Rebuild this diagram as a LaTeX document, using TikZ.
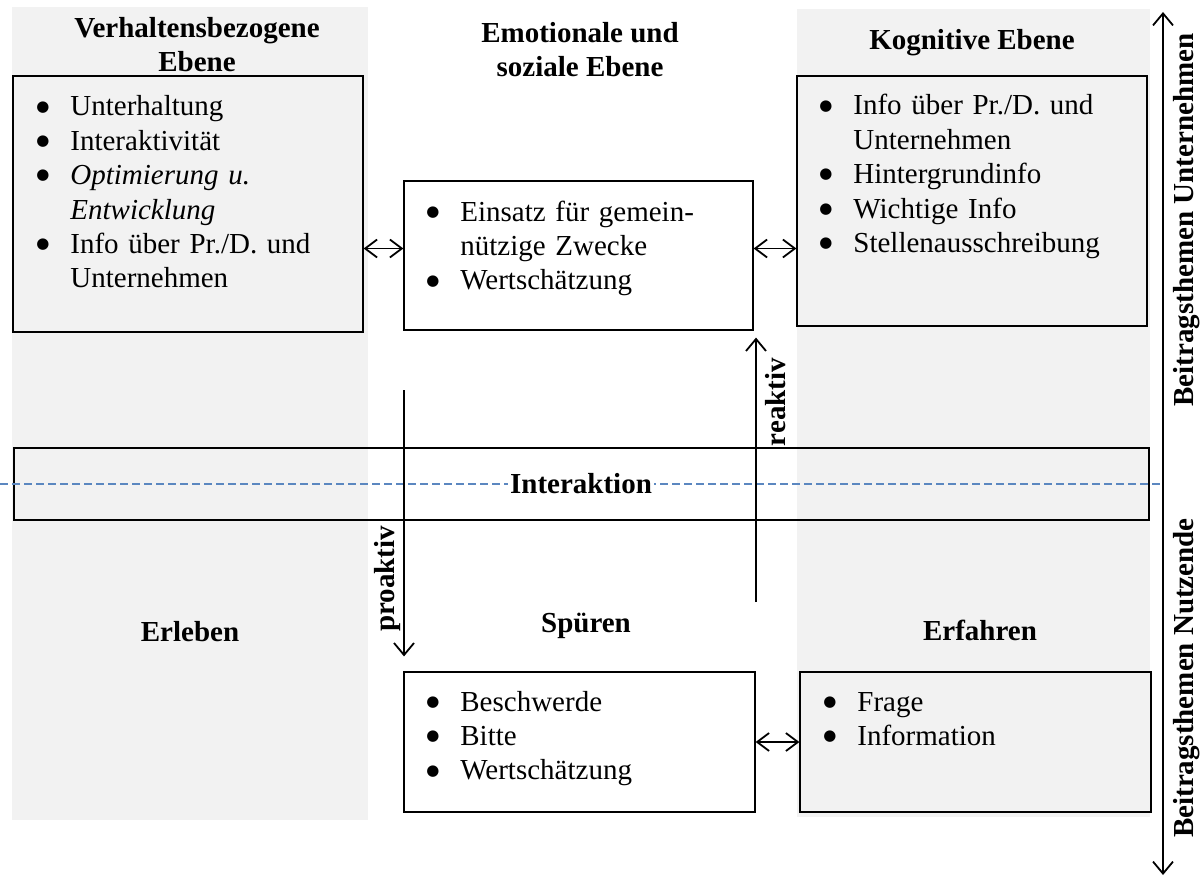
\documentclass[tikz,border=0pt]{standalone}
\usepackage{fontspec}
\setmainfont{Liberation Serif}
\newfontfamily\symfont{DejaVu Sans}
\usepackage{xcolor}
\usetikzlibrary{arrows.meta,fit,positioning}
\definecolor{colgray}{HTML}{F2F2F2}
\definecolor{dashblue}{HTML}{5B87C0}
\newcommand{\bul}{\makebox[17pt][l]{\raisebox{2.4pt}{\symfont\fontsize{7.5}{7.5}\selectfont ●}}}
\newcommand{\hang}{\hspace*{17pt}}

\begin{document}
\begin{tikzpicture}[x=0.5pt,y=-0.5pt,
	font=\fontsize{14.5}{17.2}\selectfont,
	box/.style={draw,line width=0.6pt,inner sep=0pt},
	items/.style={anchor=base west,inner sep=0pt,align=left,text width=170pt},
	head/.style={font=\fontsize{14.5}{17}\selectfont\bfseries,align=center},
	dbl/.style={{Straight Barb[length=6pt,width=9pt]}-{Straight Barb[length=6pt,width=9pt]},line width=0.9pt},
	arr/.style={-{Straight Barb[length=6pt,width=10pt]},line width=0.9pt}]
	\useasboundingbox (0,0) rectangle (1203,877);
	% Spalten
	\fill[colgray] (12,7) rectangle (368,820);
	\fill[colgray] (797,9) rectangle (1150,817);
	% Ueberschriften
	\node[head] (hverh) at (197,45) {Verhaltensbezogene\\Ebene};
	\node[head] (hemot) at (580,50) {Emotionale und\\soziale Ebene};
	\node[head] (hkogn) at (972,43) {Kognitive Ebene};
	\node[head] (herl) at (190,632) {Erleben};
	\node[head] (hspue) at (586,626) {Spüren};
	\node[head] (herf) at (980,630) {Erfahren};
	% Kaesten oben
	\node[box,fill=colgray,fit={(13,76) (363,332)}] (verh) {};
	\node[box,fill=white,fit={(404,181) (753,330)}] (emot) {};
	\node[box,fill=colgray,fit={(797,76) (1147,326)}] (kogn) {};
	\node[items] (tverh) at (36,116) {\bul Unterhaltung\\ \bul Interaktivität\\ \bul \textit{Optimierung u.}\\ \hang\textit{Entwicklung}\\ \bul Info über Pr./D. und\\ \hang Unternehmen};
	\node[items] (temot) at (426,221) {\bul Einsatz für gemein-\\ \hang nützige Zwecke\\ \bul Wertschätzung};
	\node[items] (tkogn) at (819,115) {\bul Info über Pr./D. und\\ \hang Unternehmen\\ \bul Hintergrundinfo\\ \bul Wichtige Info\\ \bul Stellenausschreibung};
	\draw[dbl] ([yshift=3.5pt]verh.east |- emot.west) -- ([yshift=3.5pt]emot.west);
	\draw[dbl] ([yshift=3.5pt]emot.east) -- ([yshift=3.5pt]kogn.west |- emot.east);
	% Kaesten unten
	\node[box,fill=white,fit={(404,672) (755,812)}] (spue) {};
	\node[box,fill=colgray,fit={(800,672) (1151,812)}] (erf) {};
	\node[items] (tspue) at (426,711) {\bul Beschwerde\\ \bul Bitte\\ \bul Wertschätzung};
	\node[items] (terf) at (823,711) {\bul Frage\\ \bul Information};
	\draw[dbl] (spue.east) -- (erf.west);
	% Interaktion
	\node[draw,line width=1.3pt,inner sep=0pt,fit={(14,448) (1149,520)}] (inter) {};
	\coordinate (dl) at (0,484);
	\coordinate (dr) at (1163,484);
	\draw[dashblue,line width=0.8pt,dash pattern=on 4pt off 2pt] (dl) -- (dr);
	\node[head,fill=white,inner sep=1pt] (tinter) at (581,484) {Interaktion};
	% proaktiv / reaktiv
	\coordinate (pa) at (404,390);
	\coordinate (ra) at (756,602);
	\draw[arr,shorten >=7.5pt] (pa) -- (pa |- spue.north);
	\draw[arr,shorten >=3.5pt] (ra) -- (ra |- emot.south);
	\node[head,rotate=90] (lpro) at (388,579) {proaktiv};
	\node[head,rotate=90] (lrea) at (776,402) {reaktiv};
	% Beitragsthemen
	\coordinate (st) at (1163,12);
	\coordinate (sb) at (1163,875);
	\draw[{Straight Barb[length=6pt,width=10pt]}-{Straight Barb[length=6pt,width=10pt]},line width=0.9pt] (st) -- (sb);
	\node[head,rotate=90] (lunt) at (1187,220) {Beitragsthemen Unternehmen};
	\node[head,rotate=90] (lnutz) at (1187,678) {Beitragsthemen Nutzende};
\end{tikzpicture}
\end{document}
